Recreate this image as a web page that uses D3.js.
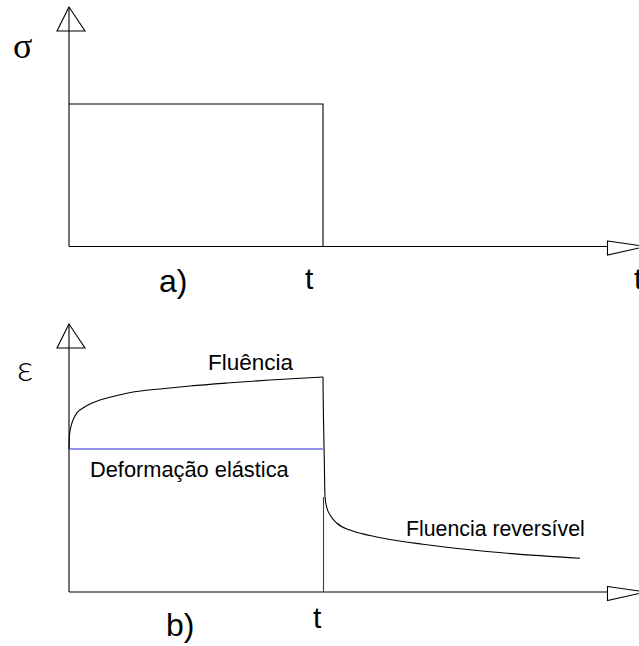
<!DOCTYPE html>
<html>
<head>
<meta charset="utf-8">
<script src="https://cdn.jsdelivr.net/npm/d3@7"></script>
<style>
  html, body { margin: 0; padding: 0; background: #fff; }
  svg { display: block; }
  text { font-family: "Liberation Sans", Arial, sans-serif; fill: #000; }
</style>
</head>
<body>
<svg id="chart" width="639" height="646"></svg>
<script>
// Time in units of the loading period (load removed at t = 1)
const loadTime = 1;
const axisEndTime = 2.12;

// a) applied stress: constant load from 0 to t, then removed
const stressTimes = [0, 1, 1];
const stressValues = [1, 1, 0];

// b) strain response
const elasticStrain = 66.5;
const creepTimes   = [0, 0.002, 0.008, 0.016, 0.031, 0.055, 0.091, 0.122, 0.181, 0.252, 0.358, 0.476, 0.622, 0.791, 1];
const creepStrains = [66.5, 73.0, 77.2, 80.0, 83.3, 85.6, 87.9, 89.3, 91.2, 93.0, 94.4, 95.8, 97.2, 98.6, 100];
const recoveryTimes   = [1, 1.0004, 1.002, 1.0051, 1.0079, 1.0146, 1.028, 1.054, 1.106, 1.185, 1.264, 1.394, 1.657, 2.012];
const recoveryStrains = [100, 93.9, 80, 61.4, 44.2, 39.5, 35.8, 32.1, 28.8, 26.3, 24.4, 22.2, 18.7, 15.7];
const recoveredLevel = 44.2;

const timeLabels = ["t"];
const panelLabels = ["a)", "b)"];
const textLabels = ["Fluência", "Deformação elástica", "Fluencia reversível"];

const svg = d3.select("#chart");

const x = d3.scaleLinear().domain([0, loadTime]).range([69, 323]);
const ySigma = d3.scaleLinear().domain([0, 1]).range([246.5, 104]);
const yEps = d3.scaleLinear().domain([0, 100]).range([592, 377]);

const blue = "#2a2ad6";
const lw = 1.1;

function drawAxes(yScale, topPx) {
  const g = svg.append("g");
  const x0 = x(0), y0 = yScale(0), xEnd = x(axisEndTime);
  // vertical axis with open arrowhead
  g.append("line").attr("x1", x0).attr("x2", x0).attr("y1", y0).attr("y2", topPx)
    .attr("stroke", "#000").attr("stroke-width", lw);
  g.append("path")
    .attr("d", `M${x0},${topPx} L${x0 - 12},${topPx + 24} L${x0 + 16},${topPx + 24} Z`)
    .attr("fill", "none").attr("stroke", "#000").attr("stroke-width", lw);
  // horizontal axis with open arrowhead
  g.append("line").attr("x1", x0).attr("x2", xEnd).attr("y1", y0).attr("y2", y0)
    .attr("stroke", "#000").attr("stroke-width", lw);
  g.append("path")
    .attr("d", `M${xEnd},${y0 - 5.5} L${xEnd + 38},${y0} L${xEnd},${y0 + 8.5} Z`)
    .attr("fill", "none").attr("stroke", "#000").attr("stroke-width", lw);
  return g;
}

// ---- a) stress ----
drawAxes(ySigma, 7);
const stressLine = d3.line().x(d => x(d[0])).y(d => ySigma(d[1]));
svg.append("path")
  .attr("d", stressLine(stressTimes.map((t, i) => [t, stressValues[i]])))
  .attr("fill", "none").attr("stroke", "#000").attr("stroke-width", lw);

svg.append("text").attr("x", 13).attr("y", 58)
  .style("font-family", "'Liberation Serif', serif").style("font-size", "36px").text("σ");
svg.append("text").attr("x", 159).attr("y", 292).style("font-size", "32px").text(panelLabels[0]);
svg.append("text").attr("x", 305).attr("y", 289).style("font-size", "30px").text(timeLabels[0]);
svg.append("text").attr("x", 634).attr("y", 289).style("font-size", "30px").text(timeLabels[0]);

// ---- b) strain ----
drawAxes(yEps, 324);

// elastic strain level
svg.append("line")
  .attr("x1", x(0)).attr("x2", x(loadTime)).attr("y1", yEps(elasticStrain)).attr("y2", yEps(elasticStrain))
  .attr("stroke", blue).attr("stroke-width", lw);
// strain remaining right after unloading
svg.append("line")
  .attr("x1", x(loadTime) + 0.5).attr("x2", x(loadTime) + 0.5).attr("y1", yEps(0)).attr("y2", yEps(recoveredLevel))
  .attr("stroke", blue).attr("stroke-width", lw);

const strainLine = d3.line().x(d => x(d[0])).y(d => yEps(d[1])).curve(d3.curveMonotoneX);
svg.append("path")
  .attr("d", strainLine(creepTimes.map((t, i) => [t, creepStrains[i]])))
  .attr("fill", "none").attr("stroke", "#000").attr("stroke-width", lw);
svg.append("path")
  .attr("d", strainLine(recoveryTimes.map((t, i) => [t, recoveryStrains[i]])))
  .attr("fill", "none").attr("stroke", "#000").attr("stroke-width", lw);

svg.append("text").attr("x", 17).attr("y", 381)
  .style("font-family", "Lato, 'Liberation Sans', sans-serif").style("font-weight", 300)
  .style("font-size", "36px").text("ε");
svg.append("text").attr("x", 208).attr("y", 370).style("font-size", "22.5px").text(textLabels[0]);
svg.append("text").attr("x", 90).attr("y", 477).style("font-size", "21.8px").text(textLabels[1]);
svg.append("text").attr("x", 406).attr("y", 536).style("font-size", "21.3px").text(textLabels[2]);
svg.append("text").attr("x", 166).attr("y", 636).style("font-size", "32px").text(panelLabels[1]);
svg.append("text").attr("x", 313).attr("y", 628).style("font-size", "30px").text(timeLabels[0]);
</script>
</body>
</html>
